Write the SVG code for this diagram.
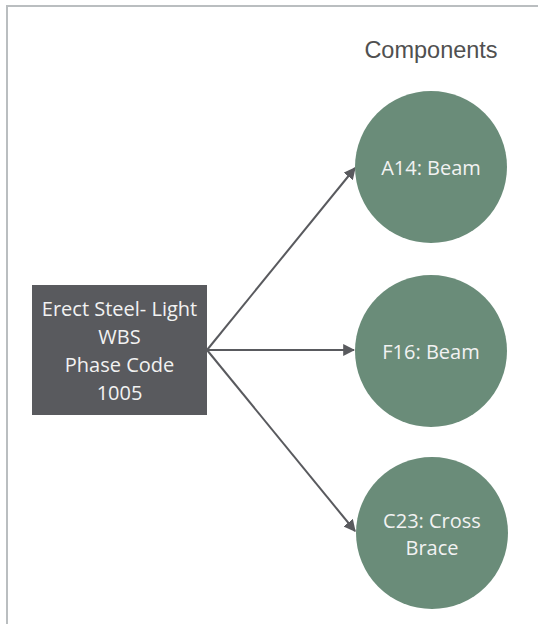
<svg xmlns="http://www.w3.org/2000/svg" width="538" height="624" viewBox="0 0 538 624">
<defs>
<style>
.frame{stroke:#babec0;stroke-width:2;fill:none}
.circ{fill:#6a8c79}
.lbl{font-family:"Open Sans","Noto Sans",sans-serif;font-size:20px;fill:#f2f2f2;text-anchor:middle}
.edge{stroke:#595a5e;stroke-width:2;fill:none;marker-end:url(#ah)}
</style>
<marker id="ah" viewBox="0 0 10 10" refX="9" refY="5" markerWidth="6" markerHeight="6" markerUnits="strokeWidth" orient="auto">
<path d="M0,0 L10,5 L0,10 z" fill="#595a5e"/>
</marker>
</defs>
<rect width="538" height="624" fill="#ffffff"/>
<path class="frame" d="M7,624 V6 H538"/>
<text x="431" y="58" font-family="'Liberation Sans',Arial,sans-serif" font-size="23.5" fill="#505050" text-anchor="middle">Components</text>
<g id="connectors">
<line class="edge" x1="207" y1="350" x2="355" y2="168"/>
<line class="edge" x1="207" y1="350" x2="354" y2="350"/>
<line class="edge" x1="207" y1="350" x2="355" y2="531"/>
</g>
<g id="wbs">
<rect x="32" y="285" width="175" height="130" fill="#595a5e"/>
<text class="lbl" x="119.5" y="316">Erect Steel- Light</text>
<text class="lbl" x="119.5" y="344">WBS</text>
<text class="lbl" x="119.5" y="372">Phase Code</text>
<text class="lbl" x="119.5" y="400">1005</text>
</g>
<g id="a14">
<circle class="circ" cx="431" cy="167" r="76"/>
<text class="lbl" x="431" y="175">A14: Beam</text>
</g>
<g id="f16">
<circle class="circ" cx="431" cy="351" r="76"/>
<text class="lbl" x="431" y="359">F16: Beam</text>
</g>
<g id="c23">
<circle class="circ" cx="432" cy="533" r="76"/>
<text class="lbl" x="432" y="528">C23: Cross</text>
<text class="lbl" x="432" y="555">Brace</text>
</g>
</svg>
